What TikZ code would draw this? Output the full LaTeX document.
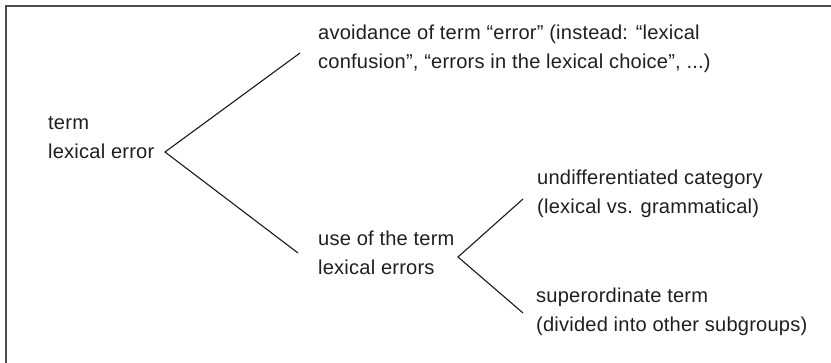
\documentclass[tikz,border=0pt]{standalone}
\usepackage{fontspec}
\setmainfont{Liberation Sans}[LetterSpace=1.0]
\begin{document}
\begin{tikzpicture}[x=1pt,y=-1pt,
  lbl/.style={anchor=west,inner sep=0pt,align=left,text=black!88,
    font=\fontsize{20.1pt}{29pt}\selectfont},
  branch/.style={line width=1.1pt,black!90},
  frame/.style={line width=2pt,black!70}]
\useasboundingbox (0,0) rectangle (831,362);
\draw[frame] (5.5,370) -- (5.5,5.5) -- (840,5.5);
\node[lbl] (root) at (48,138) {term\\lexical error};
\node[lbl] (avoid) at (318,49) {avoidance of term “error” (instead: “lexical\\confusion”, “errors in the lexical choice”, ...)};
\node[lbl] (use) at (318,253) {use of the term\\lexical errors};
\node[lbl] (undiff) at (537,194) {undifferentiated category\\(lexical vs. grammatical)};
\node[lbl] (super) at (536,312) {superordinate term\\(divided into other subgroups)};
\coordinate (v1) at (165,152);
\coordinate (a1) at (300,53);
\coordinate (b1) at (298,253);
\coordinate (v2) at (458,257);
\coordinate (a2) at (523,199);
\coordinate (b2) at (523,313);
\draw[branch] (a1) -- (v1) -- (b1);
\draw[branch] (a2) -- (v2) -- (b2);
\end{tikzpicture}
\end{document}
